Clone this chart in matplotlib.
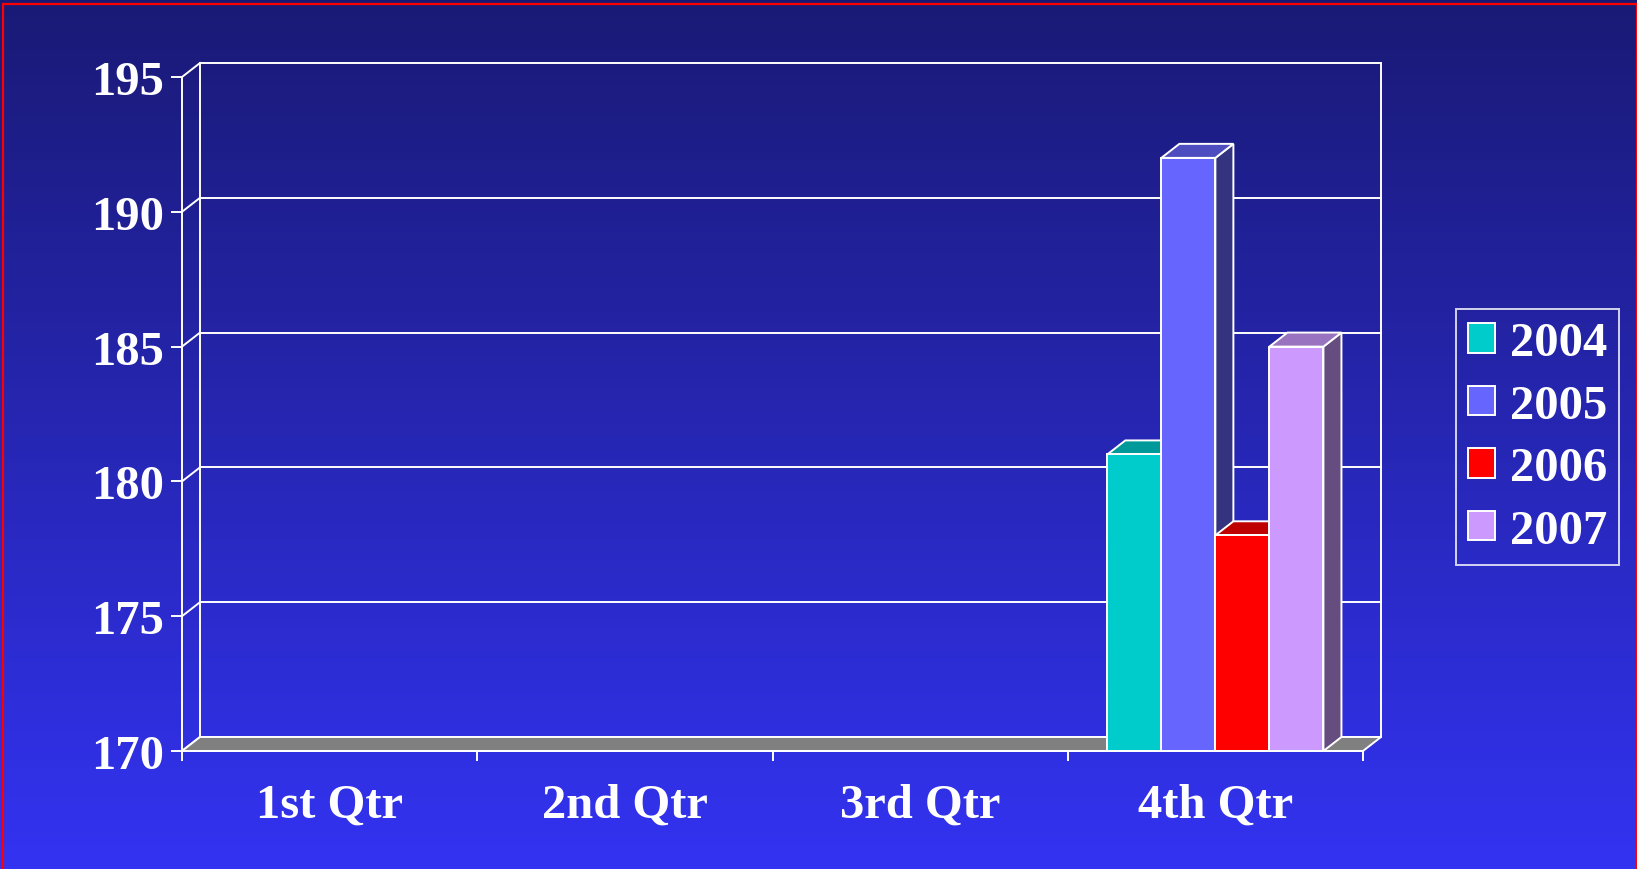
import numpy as np
import matplotlib
matplotlib.use('Agg')
import matplotlib.pyplot as plt
from matplotlib.colors import to_rgb
from matplotlib.patches import Polygon, Patch, Rectangle

quarters = ['1st Qtr', '2nd Qtr', '3rd Qtr', '4th Qtr']
years = ['2004', '2005', '2006', '2007']
# Q1-Q3 fall below the 170 floor, nothing is visible there in the source
vals_2004 = [np.nan, np.nan, np.nan, 181]
vals_2005 = [np.nan, np.nan, np.nan, 192]
vals_2006 = [np.nan, np.nan, np.nan, 178]
vals_2007 = [np.nan, np.nan, np.nan, 185]
series = [vals_2004, vals_2005, vals_2006, vals_2007]
colors = ['#00CCCC', '#6666FF', '#FF0000', '#CC99FF']
y_ticks = [170, 175, 180, 185, 190, 195]

FONT = 'Liberation Serif'
FS = 35
W, H = 1637, 870
YMIN, YMAX = 170, 195
DX, DY = 0.061, 0.52      # depth offset in data units
LW = 1.4
BAR_W = 0.183

fig = plt.figure(figsize=(W / 100, H / 100), dpi=100)

# gradient background
bg = fig.add_axes([0, 0, 1, 1], zorder=-10)
top = np.array([0.10, 0.10, 0.46])
bot = np.array([0.20, 0.20, 0.95])
t = np.linspace(0, 1, 256)[:, None]
grad = (top * (1 - t) + bot * t)[:, None, :]
bg.imshow(grad, aspect='auto', extent=[0, 1, 0, 1])
bg.axis('off')

ax = fig.add_axes([182 / W, 1 - 752 / H, 1181 / W, 674 / H])
ax.set_facecolor('none')
ax.set_xlim(0, 4)
ax.set_ylim(YMIN, YMAX)

# back wall, side wall and gridlines
for y in y_ticks:
    if y > YMIN:
        ax.plot([DX, 4 + DX], [y + DY, y + DY], color='white', lw=LW, zorder=1, clip_on=False)
    ax.plot([0, DX], [y, y + DY], color='white', lw=LW, zorder=1, clip_on=False)
ax.plot([DX, DX], [YMIN + DY, YMAX + DY], color='white', lw=LW, zorder=1, clip_on=False)
ax.plot([4 + DX, 4 + DX], [YMIN + DY, YMAX + DY], color='white', lw=LW, zorder=1, clip_on=False)

# floor
ax.add_patch(Polygon([(0, YMIN), (4, YMIN), (4 + DX, YMIN + DY), (DX, YMIN + DY)],
                     facecolor='#808080', edgecolor='white', lw=LW, zorder=2, clip_on=False))

# 3d bars
z = 3
for ci in range(len(quarters)):
    for si, vals in enumerate(series):
        v = vals[ci]
        if np.isnan(v) or v <= YMIN:
            continue
        x0 = ci + 0.5 + (si - len(series) / 2) * BAR_W
        x1 = x0 + BAR_W
        rgb = np.array(to_rgb(colors[si]))
        side = [(x1, YMIN), (x1 + DX, YMIN + DY), (x1 + DX, v + DY), (x1, v)]
        topf = [(x0, v), (x1, v), (x1 + DX, v + DY), (x0 + DX, v + DY)]
        front = [(x0, YMIN), (x1, YMIN), (x1, v), (x0, v)]
        ax.add_patch(Polygon(side, facecolor=rgb * 0.5, edgecolor='white', lw=LW, zorder=z, clip_on=False))
        ax.add_patch(Polygon(topf, facecolor=rgb * 0.75, edgecolor='white', lw=LW, zorder=z + 1, clip_on=False))
        ax.add_patch(Polygon(front, facecolor=rgb, edgecolor='white', lw=LW, zorder=z + 2, clip_on=False))
        z += 3

# axes styling
for s in ['top', 'right']:
    ax.spines[s].set_visible(False)
for s in ['left', 'bottom']:
    ax.spines[s].set_color('white')
    ax.spines[s].set_linewidth(LW)
    ax.spines[s].set_zorder(100)

ax.set_yticks(y_ticks)
ax.set_yticklabels([str(v) for v in y_ticks])
ax.tick_params(axis='y', colors='white', length=8, width=LW, pad=5)
ax.set_xticks(range(len(quarters) + 1))
ax.set_xticklabels([])
ax.set_xticks(np.arange(len(quarters)) + 0.5, minor=True)
ax.set_xticklabels(quarters, minor=True)
ax.tick_params(axis='x', which='major', colors='white', length=7.5, width=LW)
ax.tick_params(axis='x', which='minor', colors='white', length=0, pad=23)
for lab in ax.get_yticklabels() + ax.get_xticklabels(minor=True):
    lab.set_fontfamily(FONT)
    lab.set_fontweight('bold')
    lab.set_fontsize(FS)
    lab.set_color('white')

handles = [Patch(facecolor=c, edgecolor='white', lw=LW) for c in colors]
leg = fig.legend(handles, years, loc='center left', bbox_to_anchor=(1456 / W, 1 - 438 / H),
                 frameon=True, fancybox=False, edgecolor='white', facecolor='none',
                 labelcolor='white', prop=dict(family=FONT, weight='bold', size=FS),
                 handlelength=0.56, handleheight=0.56, handletextpad=0.3,
                 borderpad=0.25, labelspacing=0.38, borderaxespad=0)
leg.get_frame().set_linewidth(LW)

# thin red frame around the slide
fig.patches.append(Rectangle((2.5 / W, -0.01), (1636.5 - 2.5) / W, 1 - 5 / H + 0.01,
                             transform=fig.transFigure, fill=False, edgecolor='red', lw=1.6))

fig.savefig('out.png', dpi=100)
